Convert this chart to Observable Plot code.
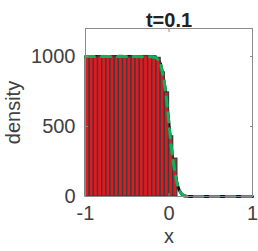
<!DOCTYPE html>
<html><head><meta charset="utf-8">
<script src="https://cdn.jsdelivr.net/npm/d3@7"></script>
<script src="https://cdn.jsdelivr.net/npm/@observablehq/plot@0.6"></script>
<style>body{margin:0;background:#fff}</style>
</head><body><div id="chart"></div>
<script>
const titleText = "t=0.1";
const xTicks = [-1, 0, 1];
const yTicks = [0, 500, 1000];
const binStart = [-1,-0.95,-0.9,-0.85,-0.8,-0.75,-0.7,-0.65,-0.6,-0.55,-0.5,-0.45,-0.4,-0.35,-0.3,-0.25,-0.2,-0.15,-0.1,-0.05,0,0.05];
const binEnd   = [-0.95,-0.9,-0.85,-0.8,-0.75,-0.7,-0.65,-0.6,-0.55,-0.5,-0.45,-0.4,-0.35,-0.3,-0.25,-0.2,-0.15,-0.1,-0.05,0,0.05,0.1];
const counts   = [996,1002,994,1000,1003,998,1001,997,1004,999,995,1002,1000,998,1003,996,1001,990,886,743,430,270];
const curveX = [-1,-0.5,-0.2,-0.15,-0.12,-0.1,-0.08,-0.06,-0.04,-0.02,0,0.02,0.04,0.06,0.08,0.1,0.12,0.15,0.18,0.22,0.5,1];
const curveY = [1000,1000,998,990,970,945,890,825,750,635,515,390,290,210,140,85,48,17,5,0,0,0];

const bins = binStart.map((s, i) => ({x1: s, x2: binEnd[i], y: counts[i]}));
const curve = curveX.map((x, i) => ({x, y: curveY[i]}));
const fmt = d => String(d);

const plot = Plot.plot({
  width: 258, height: 251,
  marginLeft: 85, marginRight: 6, marginTop: 28, marginBottom: 55,
  style: {fontFamily: "'Liberation Sans', Arial, sans-serif", fontSize: "20px", color: "#404040", background: "#fff"},
  x: {domain: [-1, 1]},
  y: {domain: [0, 1200]},
  marks: [
    Plot.line(curve, {x: "x", y: "y", stroke: "#111", strokeWidth: 3}),
    Plot.rectY(bins, {x1: "x1", x2: "x2", y: "y", fill: "#e01a20", stroke: "#3c3c3c", strokeWidth: 1.3}),
    Plot.line(curve, {x: "x", y: "y", stroke: "#12b05a", strokeWidth: 3, strokeDasharray: "9,7"}),
    Plot.frame({stroke: "#8a8a8a", strokeWidth: 1}),
    Plot.axisX({anchor: "bottom", ticks: xTicks, tickFormat: fmt, tickSize: -3, tickPadding: 12, stroke: "#8a8a8a", label: "x", labelAnchor: "center", labelOffset: 46, labelArrow: "none", fontSize: 20}),
    Plot.axisX({anchor: "top", ticks: xTicks, tickSize: -3, tickFormat: () => "", label: null, stroke: "#8a8a8a"}),
    Plot.axisY({anchor: "left", ticks: yTicks, tickFormat: fmt, tickSize: -3, tickPadding: 13, stroke: "#8a8a8a", label: "density", labelAnchor: "center", labelOffset: 80, labelArrow: "none", fontSize: 20}),
    Plot.axisY({anchor: "right", ticks: yTicks, tickSize: -3, tickFormat: () => "", label: null, stroke: "#8a8a8a"}),
    Plot.text([titleText], {frameAnchor: "top", dy: -16, fontWeight: "bold", fontSize: 20, fill: "#222"})
  ]
});
document.getElementById("chart").appendChild(plot);
</script>
</body></html>
